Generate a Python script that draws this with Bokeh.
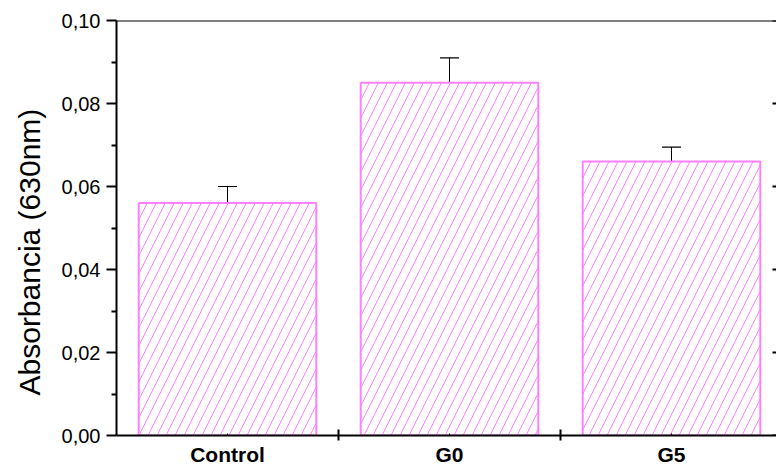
from bokeh.plotting import figure
from bokeh.models import (ColumnDataSource, Range1d, FixedTicker, LinearAxis,
                          CustomJSTickFormatter, Whisker, TeeHead, Span, Title)
from bokeh.embed import file_html
from bokeh.resources import INLINE

# ---- data ----
categories = ["Control", "G0", "G5"]
absorbance = [0.056, 0.085, 0.066]
errors = [0.004, 0.006, 0.0035]
y_major_ticks = [0.00, 0.02, 0.04, 0.06, 0.08, 0.10]
y_minor_ticks = [0.01, 0.03, 0.05, 0.07, 0.09]
y_title = "Absorbancia (630nm)"

positions = list(range(1, len(categories) + 1))
between = [p + 0.5 for p in positions[:-1]]
upper = [a + e for a, e in zip(absorbance, errors)]

src = ColumnDataSource(dict(x=positions, top=absorbance, upper=upper, name=categories))

PINK = "#ff80ff"
FONT = "Liberation Sans"

PX_PER_UNIT = 222.0
x_start = 0.5
x_end = 3.5 - 6 / PX_PER_UNIT
y_start, y_end = 0.0, 0.10

p = figure(width=776, height=468, output_backend="svg", toolbar_location=None,
           x_range=Range1d(x_start, x_end), y_range=Range1d(y_start, y_end),
           x_axis_type=None, y_axis_type=None,
           min_border_left=116, min_border_right=0, min_border_top=20,
           min_border_bottom=33)
p.outline_line_color = None
p.xgrid.visible = False
p.ygrid.visible = False
p.background_fill_color = "white"
p.border_fill_color = "white"

# bars
p.vbar(x="x", top="top", width=0.8, bottom=0, source=src,
       fill_color="white", line_color=PINK, line_width=2,
       hatch_pattern="/", hatch_color=PINK, hatch_scale=18, hatch_weight=1)

# error bars (upper only)
p.add_layout(Whisker(source=src, base="x", upper="upper", lower="top",
                     line_color="black", line_width=1,
                     upper_head=TeeHead(size=19, line_color="black", line_width=1.2),
                     lower_head=None))

# left axis
yaxis = LinearAxis(ticker=FixedTicker(ticks=y_major_ticks, minor_ticks=y_minor_ticks),
                   formatter=CustomJSTickFormatter(code="return tick.toFixed(2).replace('.', ',');"))
yaxis.axis_line_width = 2
yaxis.major_tick_line_width = 2
yaxis.minor_tick_line_width = 2
yaxis.major_tick_out = 10
yaxis.major_tick_in = 0
yaxis.minor_tick_out = 5
yaxis.minor_tick_in = 0
yaxis.major_label_standoff = 6
yaxis.major_label_text_font = FONT
yaxis.major_label_text_font_size = "20px"
yaxis.major_label_text_color = "black"
p.add_layout(yaxis, "left")

# y-axis title
p.add_layout(Title(text=y_title, align="left", offset=40, standoff=22,
                   vertical_align="top",
                   text_font=FONT, text_font_size="30px", text_font_style="normal",
                   text_color="black"), "left")

# bottom axis
xaxis = LinearAxis(ticker=FixedTicker(ticks=positions, minor_ticks=between),
                   major_label_overrides={pos: c for pos, c in zip(positions, categories)})
xaxis.axis_line_width = 2
xaxis.major_tick_in = 2
xaxis.major_tick_out = 0
xaxis.major_tick_line_width = 1
xaxis.minor_tick_in = 6
xaxis.minor_tick_out = 5
xaxis.minor_tick_line_width = 2
xaxis.major_label_standoff = 2
xaxis.major_label_text_font = FONT
xaxis.major_label_text_font_style = "bold"
xaxis.major_label_text_font_size = "21px"
xaxis.major_label_text_color = "black"
p.add_layout(xaxis, "below")

# top frame line
p.add_layout(Span(location=y_end, dimension="width", line_color="black", line_width=2))

# right-side tick marks (the right spine lies just beyond the visible area)
p.scatter(x=[x_end] * len(y_major_ticks), y=y_major_ticks, marker="dash",
          size=8, line_color="black", line_width=2)

open("out.html", "w").write(file_html(p, INLINE))
